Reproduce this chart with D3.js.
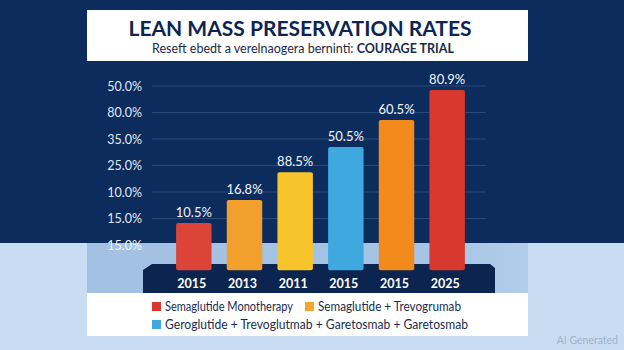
<!DOCTYPE html>
<html>
<head>
<meta charset="utf-8">
<script src="https://cdn.jsdelivr.net/npm/d3@7"></script>
<style>
  html, body { margin: 0; padding: 0; background: #0c2c5e; }
  svg { display: block; font-family: Lato, "Open Sans", sans-serif; }
</style>
</head>
<body>
<svg id="chart" width="624" height="350"></svg>
<script>
// data
var years = ['2015', '2013', '2011', '2015', '2015', '2025'];
var barLabels = ['10.5%', '16.8%', '88.5%', '50.5%', '60.5%', '80.9%'];
// bar heights, in grid steps above the lowest tick
var barHeights = [0.83, 1.70, 2.75, 3.70, 4.72, 5.85];
var barColors = ['#dc4438', '#f29f2e', '#f7c42b', '#3ea8df', '#f28b1c', '#d9382e'];
var tickLabels = ['15.0%', '15.0%', '10.0%', '25.0%', '35.0%', '80.0%', '50.0%'];
var legendItems = [
  { name: 'Semaglutide Monotherapy', color: '#d9382e', width: 128 },
  { name: 'Semaglutide + Trevogrumab', color: '#f4a62c', width: 143 },
  { name: 'Geroglutide + Trevoglutmab + Garetosmab + Garetosmab', color: '#3ea8df', width: 303 }
];

var svg = d3.select('#chart');

// background bands
svg.append('rect').attr('width', 624).attr('height', 350).attr('fill', '#0c2c5e');
svg.append('rect').attr('x', 0).attr('y', 243).attr('width', 624).attr('height', 107).attr('fill', '#c8ddf2');
var grad = svg.append('defs').append('linearGradient').attr('id', 'band')
  .attr('x1', 0).attr('x2', 1).attr('y1', 0).attr('y2', 0);
grad.append('stop').attr('offset', 0).attr('stop-color', '#a2c1e3');
grad.append('stop').attr('offset', 0.8).attr('stop-color', '#a6c4e5');
grad.append('stop').attr('offset', 1).attr('stop-color', '#b2cdea');
svg.append('rect').attr('x', 87).attr('y', 243).attr('width', 441).attr('height', 51).attr('fill', 'url(#band)');

// title box
svg.append('rect').attr('x', 87).attr('y', 10).attr('width', 441).attr('height', 51).attr('fill', '#ffffff');
svg.append('text').attr('x', 300).attr('y', 36).attr('text-anchor', 'middle')
  .attr('fill', '#0d2550').attr('font-size', 21).attr('font-weight', 'bold')
  .text('LEAN MASS PRESERVATION RATES');
var sub = svg.append('text').attr('x', 303).attr('y', 53).attr('text-anchor', 'middle')
  .attr('fill', '#1a2a48').attr('font-size', 12.5);
sub.append('tspan').text('Reseft ebedt a verelnaogera berninti: ');
sub.append('tspan').attr('font-weight', 'bold').text('COURAGE TRIAL');

// scales
var x = d3.scaleBand().domain(d3.range(years.length)).range([168.5, 472.5])
  .paddingInner(0.3).paddingOuter(0.15);
var y = d3.scaleLinear().domain([0, 6]).range([245, 86]);
var base = -0.95;

// gridlines
svg.append('g').selectAll('line').data(d3.range(1, 7)).join('line')
  .attr('x1', 152).attr('x2', 486)
  .attr('y1', function(d) { return y(d); }).attr('y2', function(d) { return y(d); })
  .attr('stroke', '#2a4a7c').attr('stroke-width', 1);

// y axis labels
var yAxis = d3.axisLeft(y).tickValues(d3.range(0, 7))
  .tickFormat(function(d) { return tickLabels[d]; }).tickSize(0).tickPadding(0);
var yg = svg.append('g').attr('transform', 'translate(142,0)').call(yAxis);
yg.select('.domain').remove();
yg.selectAll('text').attr('fill', '#e2e9f3').attr('font-size', 12.5)
  .attr('font-family', 'Lato, "Open Sans", sans-serif');
yg.selectAll('text').filter(function(d) { return d === 0; }).attr('fill', '#f4f8fd');

// platform
svg.append('path')
  .attr('d', 'M143,270 L152,264 L490,264 L495,268 L495,293 L143,293 Z')
  .attr('fill', '#0b2550');

// bars
svg.append('g').selectAll('rect').data(barHeights).join('rect')
  .attr('x', function(d, i) { return x(i); })
  .attr('y', function(d) { return y(d); })
  .attr('width', x.bandwidth())
  .attr('height', function(d) { return y(base) - y(d); })
  .attr('rx', 2)
  .attr('fill', function(d, i) { return barColors[i]; });

// value labels
svg.append('g').selectAll('text').data(barHeights).join('text')
  .attr('x', function(d, i) { return x(i) + x.bandwidth() / 2; })
  .attr('y', function(d) { return y(d) - 6; })
  .attr('text-anchor', 'middle').attr('fill', '#f2f5fa').attr('font-size', 13)
  .text(function(d, i) { return barLabels[i]; });

// x labels on the platform
svg.append('g').selectAll('text').data(years).join('text')
  .attr('x', function(d, i) { return x(i) + x.bandwidth() / 2 - 2; })
  .attr('y', 288)
  .attr('text-anchor', 'middle').attr('fill', '#ffffff').attr('font-size', 12.5)
  .attr('font-weight', 'bold')
  .text(function(d) { return d; });

// legend
svg.append('rect').attr('x', 87).attr('y', 293).attr('width', 441).attr('height', 43).attr('fill', '#ffffff');
var legPos = [[152, 311], [305, 311], [152, 329]];
var leg = svg.append('g').selectAll('g').data(legendItems).join('g')
  .attr('transform', function(d, i) { return 'translate(' + legPos[i][0] + ',' + legPos[i][1] + ')'; });
leg.append('rect').attr('x', 0).attr('y', -9).attr('width', 9).attr('height', 9)
  .attr('fill', function(d) { return d.color; });
leg.append('text').attr('x', 13).attr('y', 0).attr('fill', '#1c2c50').attr('font-size', 13)
  .attr('textLength', function(d) { return d.width; }).attr('lengthAdjust', 'spacingAndGlyphs')
  .text(function(d) { return d.name; });

// watermark
svg.append('text').attr('x', 618).attr('y', 344).attr('text-anchor', 'end')
  .attr('fill', '#9fb3c9').attr('font-size', 10.5).text('AI Generated');
</script>
</body>
</html>
